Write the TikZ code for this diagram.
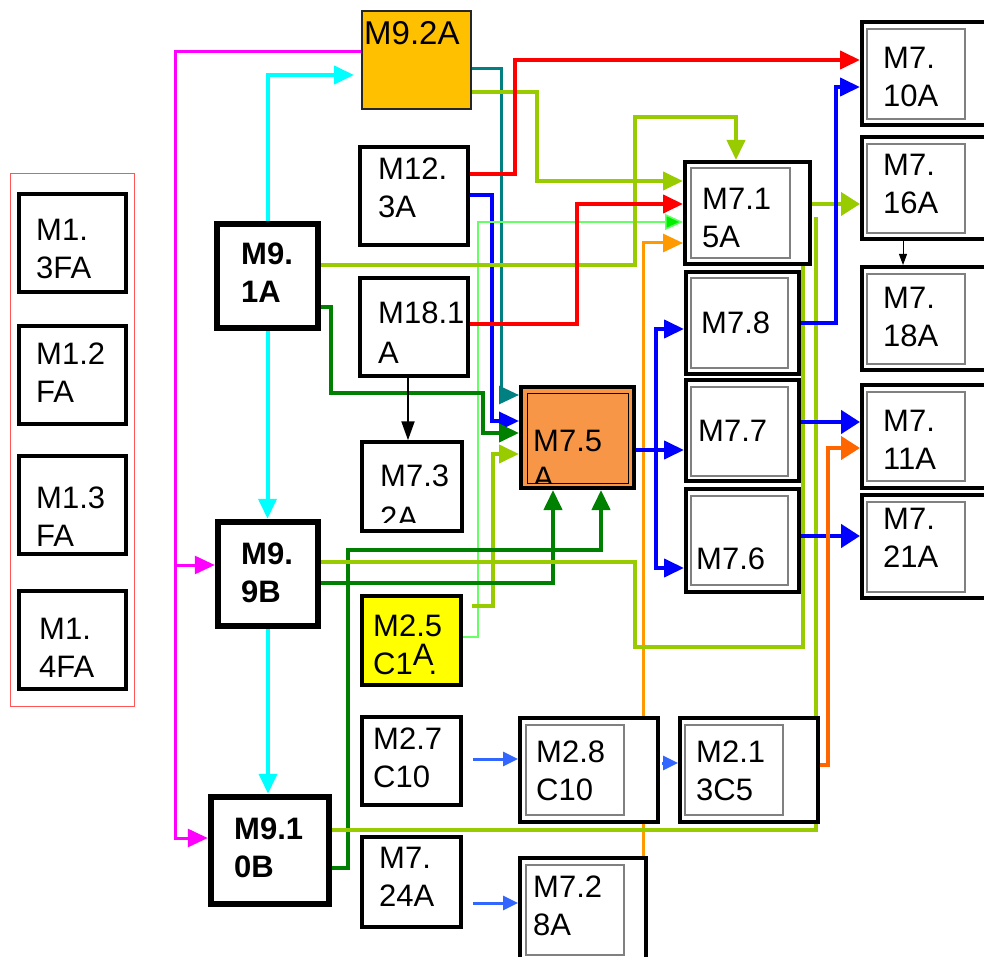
\documentclass[tikz,border=0pt]{standalone}
\usepackage{fontspec}
\setmainfont{Liberation Sans}
\usetikzlibrary{arrows.meta,fit,calc,backgrounds}
\definecolor{cMag}{HTML}{FF00FF}
\definecolor{cCy}{HTML}{00FFFF}
\definecolor{cTeal}{HTML}{008080}
\definecolor{cYG}{HTML}{99CC00}
\definecolor{cRed}{HTML}{FF0000}
\definecolor{cBlue}{HTML}{0000FF}
\definecolor{cLG}{HTML}{66FF66}
\definecolor{cLGa}{HTML}{00EE00}
\definecolor{cOr}{HTML}{FF9900}
\definecolor{cDG}{HTML}{008000}
\definecolor{cOR}{HTML}{FF6600}
\definecolor{cLB}{HTML}{3366FF}
\definecolor{fGold}{HTML}{FFC000}
\definecolor{fOrange}{HTML}{F79646}
\definecolor{fYel}{HTML}{FFFF00}
\definecolor{cFrame}{HTML}{FF5555}
\begin{document}
\begin{tikzpicture}[x=1pt,y=-1pt,
  txt/.style={anchor=north west,inner sep=0pt,align=left,font=\fontsize{31}{38}\selectfont},
  btxt/.style={txt,font=\fontsize{31}{38}\selectfont\bfseries},
  sbox/.style={draw=black,line width=3.5pt,fill=white,inner sep=0pt},
  dbox/.style={draw=black,line width=4pt,fill=white,inner sep=0pt},
  mbox/.style={draw=black,line width=6.5pt,fill=white,inner sep=0pt},
  inbox/.style={draw=gray,line width=1.2pt},
  ln/.style={line width=#1,line join=miter},
  aT/.style={-{Triangle[length=20pt,width=18pt]}},
  aB/.style={-{Triangle[length=19pt,width=23pt]}},
  aS/.style={-{Triangle[length=15pt,width=14pt]}},
  aK/.style={-{Triangle[length=19pt,width=13pt]}},
  aKs/.style={-{Triangle[length=11pt,width=8pt]}},
]
\clip (0,0) rectangle (984,957);
\useasboundingbox (0,0) rectangle (984,957);

% ---------- boxes ----------
\node[draw=cFrame,line width=1pt,inner sep=0pt,fit={(10,174)(134,706)}] (frame) {};
\node[sbox,line width=4pt,fit={(19,194)(126,292)}] (m13a) {};
\node[sbox,line width=4pt,fit={(19,326)(126,424)}] (m12) {};
\node[sbox,line width=4pt,fit={(19,456)(126,554)}] (m13b) {};
\node[sbox,line width=4pt,fit={(19,591)(126,689)}] (m14) {};

\node[draw=black!85,line width=2pt,fill=fGold,inner sep=0pt,fit={(362,11)(471,109)}] (m92) {};
\node[sbox,fit={(360,147)(468,245)}] (m123) {};
\node[sbox,fit={(360,278)(468,376)}] (m181) {};
\node[sbox,fit={(362,442)(462,531)}] (m732) {};
\node[sbox,fill=fYel,fit={(362,596)(461,685)}] (m25) {};
\node[sbox,fit={(362,717)(461,805)}] (m27) {};
\node[sbox,fit={(362,837)(461,927)}] (m724) {};

\node[mbox,fit={(217,224)(318,328)}] (m91) {};
\node[mbox,fit={(218,522)(318,626)}] (m99) {};
\node[mbox,fit={(211,797)(329,904)}] (m910) {};

\node[dbox,fill=fOrange,fit={(521,387)(634,488)}] (m75) {};
\draw[line width=1pt] (527,393) rectangle (628,483);

\node[dbox,fit={(685,162)(810,264)}] (m715) {};
\draw[inbox] (691,168) rectangle (790,258);
\node[dbox,fit={(686,272)(799,374)}] (m78) {};
\draw[inbox] (691,278) rectangle (788,368);
\node[dbox,fit={(686,380)(799,481)}] (m77) {};
\draw[inbox] (691,387) rectangle (788,476);
\node[dbox,fit={(686,489)(799,592)}] (m76) {};
\draw[inbox] (691,496) rectangle (788,585);

\node[dbox,fit={(520,718)(658,822)}] (m28) {};
\draw[inbox] (526,725) rectangle (624,815);
\node[dbox,fit={(680,718)(818,822)}] (m213) {};
\draw[inbox] (685,725) rectangle (783,815);
\node[dbox,fit={(520,858)(646,964)}] (m728) {};
\draw[inbox] (526,865) rectangle (624,955);

\node[dbox,fit={(862,22)(992,125)}] (m710) {};
\draw[inbox] (867,29) rectangle (965,119);
\node[dbox,fit={(862,137)(992,239)}] (m716) {};
\draw[inbox] (867,144) rectangle (965,233);
\node[dbox,fit={(862,267)(992,370)}] (m718) {};
\draw[inbox] (867,274) rectangle (965,364);
\node[dbox,fit={(862,385)(992,488)}] (m711) {};
\draw[inbox] (867,392) rectangle (965,481);
\node[dbox,fit={(862,495)(992,598)}] (m721) {};
\draw[inbox] (867,502) rectangle (965,592);

% ---------- texts ----------
\node[txt] (t13a) at (36,219) {M1.\\3FA};
\node[txt] (t12) at (36,343) {M1.2\\FA};
\node[txt] (t13b) at (36,487) {M1.3\\FA};
\node[txt] (t14) at (39,618) {M1.\\4FA};

\node[txt,font=\fontsize{33}{38}\selectfont] (t92) at (364,21) {M9.2A};
\node[txt] (t123) at (378,158) {M12.\\3A};
\node[txt,font=\fontsize{31}{40}\selectfont] (t181) at (378,302) {M18.1\\A};
\begin{scope}
  \clip (364,444) rectangle (460,522);
  \node[txt,font=\fontsize{31}{42}\selectfont] (t732) at (380,465) {M7.3\\2A};
\end{scope}
\node[txt] (t25) at (373,615) {M2.5\\C1\raisebox{9pt}{A}\kern-5pt.};
\node[txt] (t27) at (373,728) {M2.7\\C10};
\node[txt] (t724) at (379,847) {M7.\\24A};

\node[btxt] (t91) at (241,243) {M9.\\1A};
\node[btxt] (t99) at (241,543) {M9.\\9B};
\node[btxt] (t910) at (234,818) {M9.1\\0B};

\begin{scope}
  \clip (528,394) rectangle (627,483);
  \node[txt,font=\fontsize{31}{37}\selectfont] (t75) at (533,430) {M7.5\\A};
\end{scope}

\node[txt] (t715) at (702,188) {M7.1\\5A};
\node[txt] (t78) at (701,312) {M7.8};
\node[txt] (t77) at (698,420) {M7.7};
\node[txt] (t76) at (696,548) {M7.6};
\node[txt] (t28) at (536,741) {M2.8\\C10};
\node[txt] (t213) at (696,741) {M2.1\\3C5};
\node[txt] (t728) at (533,876) {M7.2\\8A};

\node[txt] (t710) at (883,47) {M7.\\10A};
\node[txt] (t716) at (883,154) {M7.\\16A};
\node[txt] (t718) at (883,287) {M7.\\18A};
\node[txt] (t711) at (883,410) {M7.\\11A};
\node[txt] (t721) at (883,508) {M7.\\21A};

% ---------- connectors ----------
\begin{scope}[on background layer]
\fill[white] (0,0) rectangle (984,957);
% magenta
\draw[ln=3pt,cMag,aT] (m92.west |- 0,52) -- (175,52) -- (175,838) -- (m910.west |- 0,838);
\draw[ln=3pt,cMag,aT] (175,565) -- (m99.west |- 0,565);
% cyan
\draw[ln=4pt,cCy,aT] (m91.north) -- (m91.north |- 0,75) -- ($(m92.west |- 0,75)+(-7,0)$);
\draw[ln=4pt,cCy,aT] (m91.south) -- (m91.south |- m99.north);
\draw[ln=4pt,cCy,aT] (m99.south) -- (m99.south |- m910.north);
% teal
\draw[ln=3pt,cTeal,aT] (m92.east |- 0,69) -- (501,69) -- (501,395) -- (m75.west |- 0,395);
% yellow-green from M9.2A
\draw[ln=4pt,cYG,aT] (m92.east |- 0,92) -- (537,92) -- (537,181) -- (m715.west |- 0,181);
% red from M12.3A
\draw[ln=4pt,cRed,aT] (m123.east |- 0,174) -- (515,174) -- (515,60) -- (m710.west |- 0,60);
% blue from M12.3A
\draw[ln=3.5pt,cBlue,aT] (m123.east |- 0,195) -- (492,195) -- (492,421) -- (m75.west |- 0,421);
% light green thin
\draw[ln=1.5pt,cLG,-{Triangle[length=18pt,width=16pt,fill=cLGa]}] (m25.east |- 0,637) -- (478,637) -- (478,222) -- (m715.west |- 0,222);
% yellow-green from M9.1A
\draw[ln=4pt,cYG,aT] (m91.east |- 0,265) -- (635,265) -- (635,117) -- (736,117) -- (736,0 |- m715.north);
% red from M18.1A
\draw[ln=4pt,cRed,aT] (m181.east |- 0,324) -- (577,324) -- (577,204) -- (m715.west |- 0,204);
% orange from M7.28A
\draw[ln=3pt,cOr,aT] (643,0 |- m728.north) -- (643,243) -- (m715.west |- 0,243);
% dark green from M9.1A
\draw[ln=4pt,cDG,aT] (m91.east |- 0,307) -- (331,307) -- (331,393) -- (483,393) -- (483,433) -- (m75.west |- 0,433);
% yellow-green from M2.5C1A
\draw[ln=4pt,cYG,aT] ($(m25.east |- 0,606)+(9,0)$) -- (493,606) -- (493,454) -- (m75.west |- 0,454);
% black M18.1A -> M7.32A
\draw[ln=2pt,black,aK] (408,0 |- m181.south) -- (408,0 |- m732.north);
% dark green from M9.10B
\draw[ln=4pt,cDG,aT] (m910.east |- 0,868) -- (348,868) -- (348,550) -- (601,550) -- (601,0 |- m75.south);
% dark green from M9.9B
\draw[ln=4pt,cDG,aT] (m99.east |- 0,583) -- (553,583) -- (553,0 |- m75.south);
% yellow-green from M9.9B
\draw[ln=4pt,cYG] (m99.east |- 0,562) -- (635,562) -- (635,647) -- (803,647) -- (803,0 |- m715.south);
% yellow-green from M9.10B
\coordinate (c715r) at ($(m715.east |- 0,217)+(4,0)$);
\draw[ln=4pt,cYG] (m910.east |- 0,830) -- (816,830) -- (c715r -| 816,0);
% yellow-green M7.15A -> M7.16A
\draw[ln=4pt,cYG,aB] (m715.east |- 0,204) -- (m716.west |- 0,204);
% blue M7.8 -> M7.10A
\draw[ln=4pt,cBlue,aT] (m78.east |- 0,323) -- (836,323) -- (836,87) -- (m710.west |- 0,87);
% black thin M7.16A -> M7.18A
\draw[ln=1pt,black,aKs] (903,0 |- m716.south) -- (903,0 |- m718.north);
% blue from M7.5A
\draw[ln=4pt,cBlue,aT] (m75.east |- 0,450) -- (m77.west |- 0,450);
\draw[ln=4pt,cBlue,aT] (656,450) |- (m78.west |- 0,329);
\draw[ln=4pt,cBlue,aT] (656,450) |- (m76.west |- 0,568);
% blue to M7.11A, M7.21A
\draw[ln=4.5pt,cBlue,aB] (m77.east |- 0,422) -- (m711.west |- 0,422);
\draw[ln=4.5pt,cBlue,aB] (m76.east |- 0,536) -- (m721.west |- 0,536);
% orange-red M2.13C5 -> M7.11A
\draw[ln=4pt,cOR,aB] (m213.east |- 0,765) -- (828,765) -- (828,448) -- (m711.west |- 0,448);
% light blue
\draw[ln=3pt,cLB,aS] ($(m27.east |- 0,759)+(10,0)$) -- (m28.west |- 0,759);
\draw[ln=3pt,cLB,aS] ($(m28.east |- 0,763)+(2,0)$) -- (m213.west |- 0,763);
\draw[ln=3pt,cLB,aS] ($(m724.east |- 0,903)+(10,0)$) -- (m728.west |- 0,903);
\end{scope}
\end{tikzpicture}
\end{document}
